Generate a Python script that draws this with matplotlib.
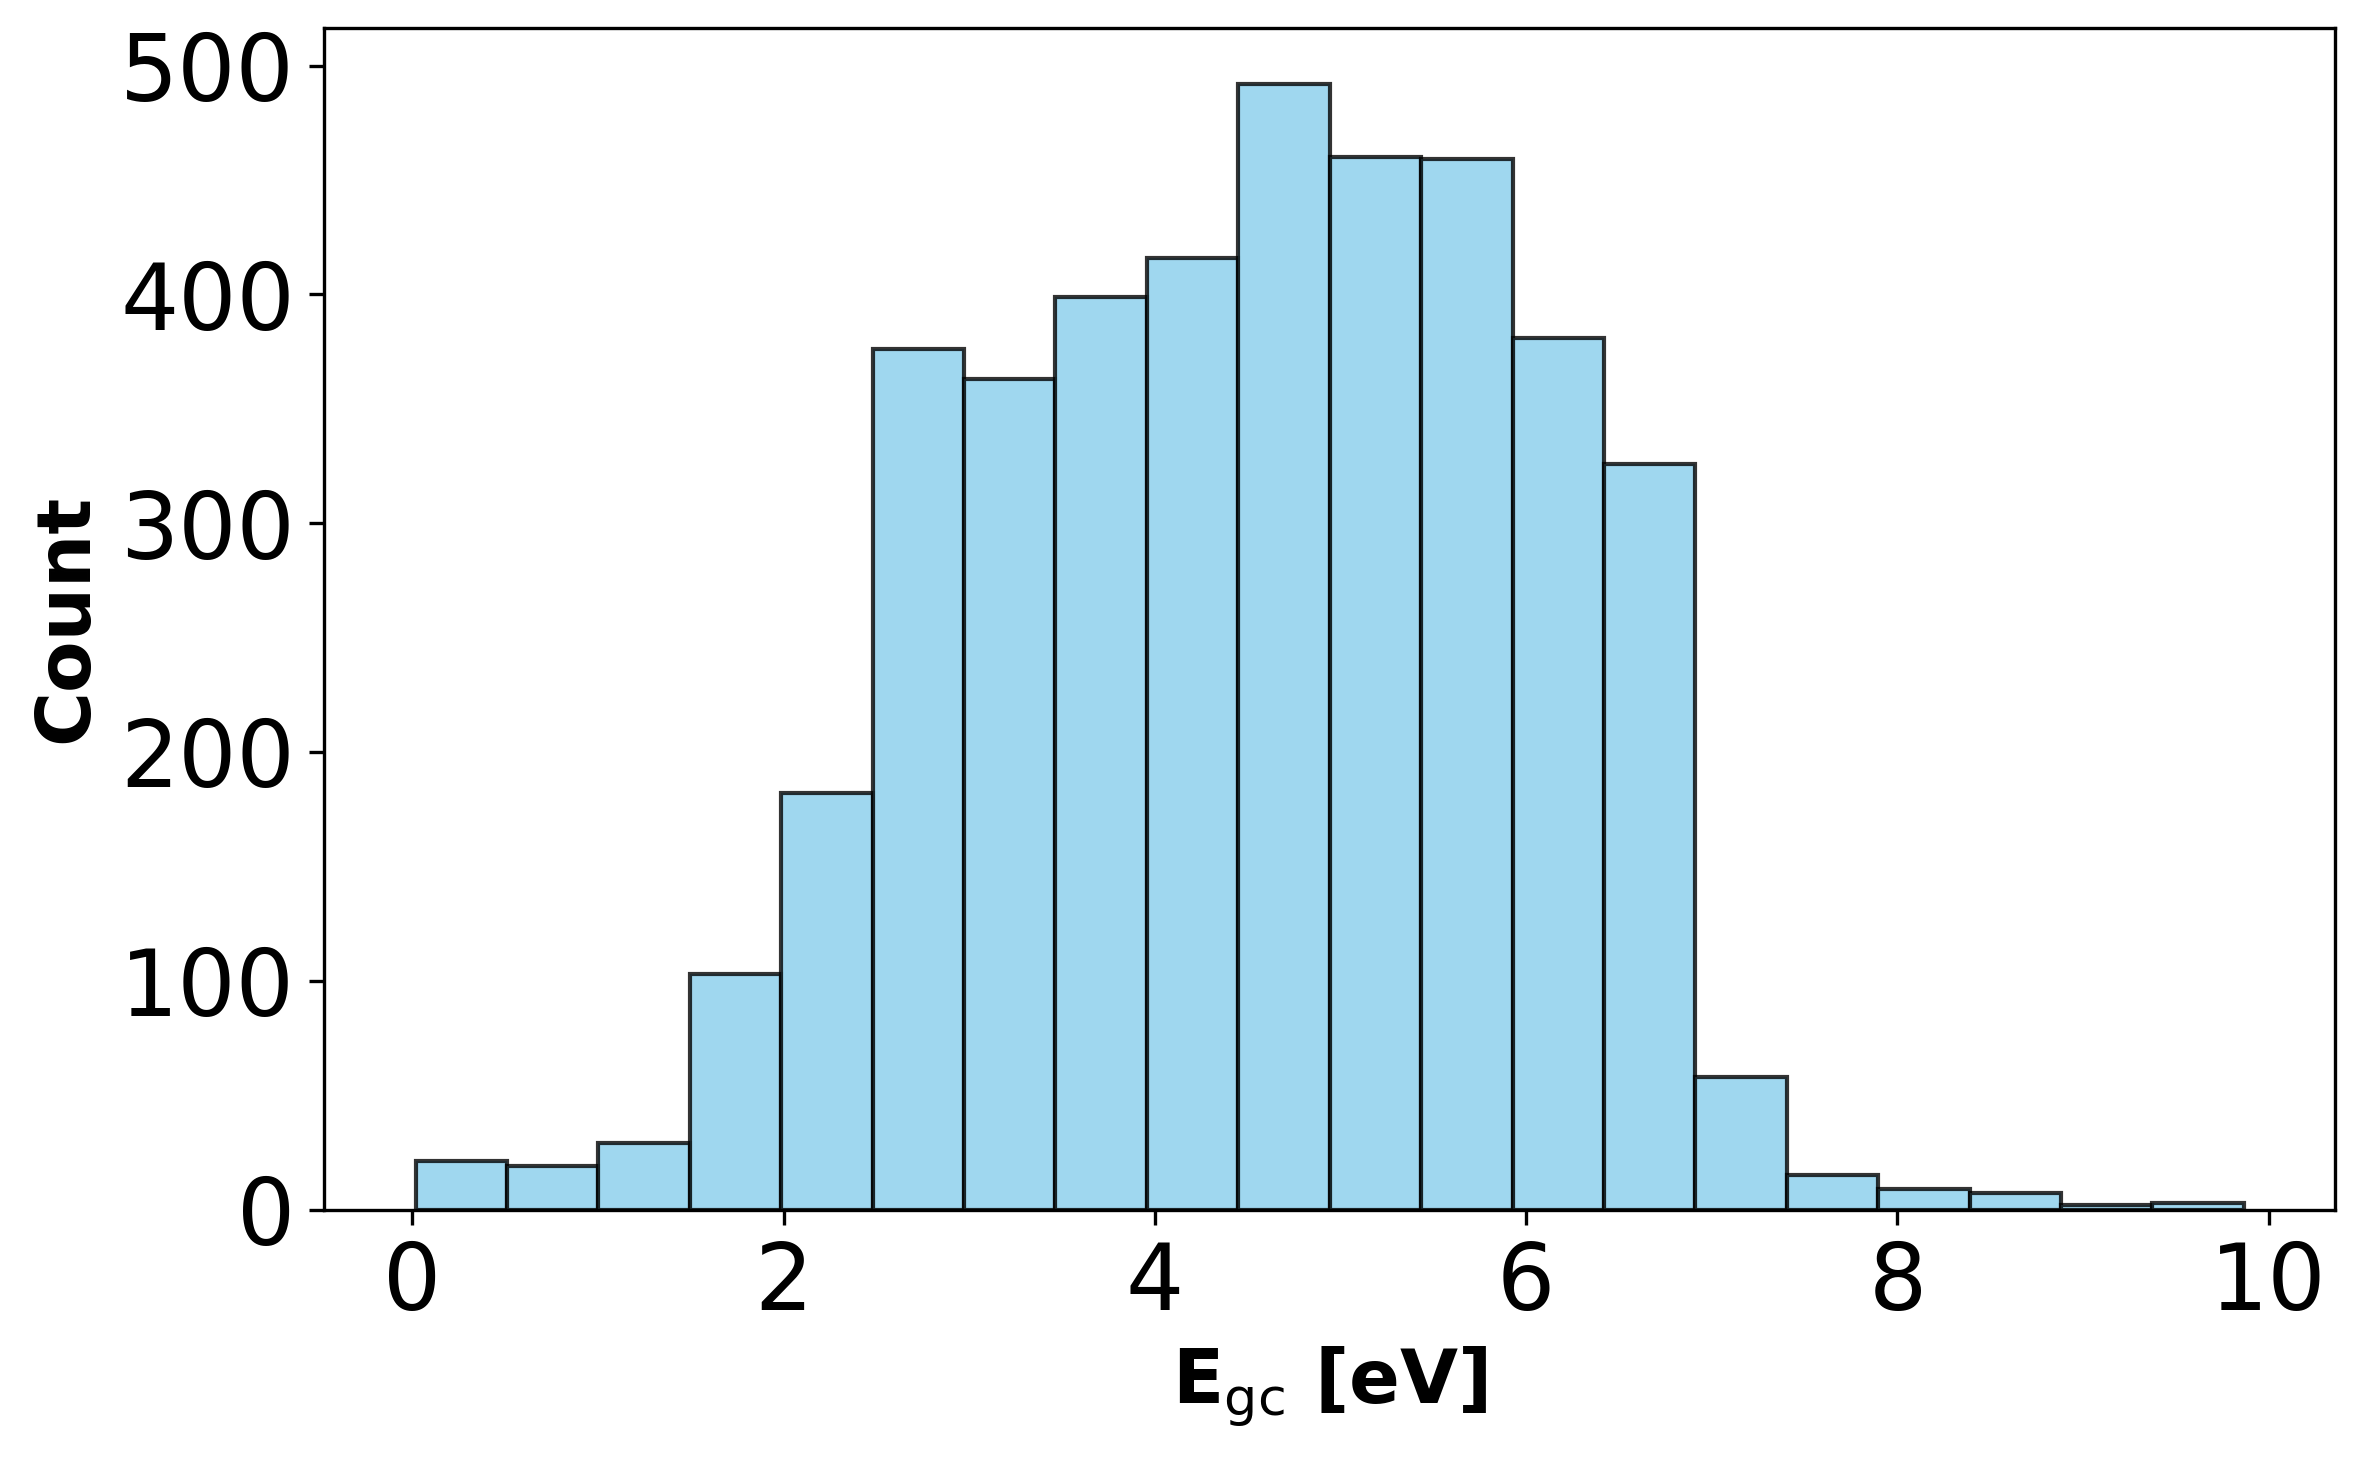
import numpy as np
import matplotlib
matplotlib.use('Agg')
import matplotlib.pyplot as plt

# Histogram of E_gc, 20 bins
bin_start = 0.017
bin_stop = 9.866
n_bins = 20
counts = [21, 19, 29, 103, 182, 376, 363, 399, 416, 492,
          460, 459, 381, 326, 58, 15, 9, 7, 2, 3]

edges = np.linspace(bin_start, bin_stop, n_bins + 1)
centers = 0.5 * (edges[:-1] + edges[1:])

fig, ax = plt.subplots(figsize=(2366 / 300, 1459 / 300), dpi=300)
fig.subplots_adjust(left=0.137, right=0.987, top=0.981, bottom=0.171)

ax.hist(centers, bins=edges, weights=counts, color='skyblue',
        edgecolor='black', alpha=0.8)

ax.set_xlabel(r'E$_{\mathrm{gc}}$ [eV]', fontsize=18, fontweight='bold')
ax.set_ylabel('Count', fontsize=18, fontweight='bold')
ax.tick_params(axis='both', labelsize=22)

fig.savefig('out.png', dpi=300)
